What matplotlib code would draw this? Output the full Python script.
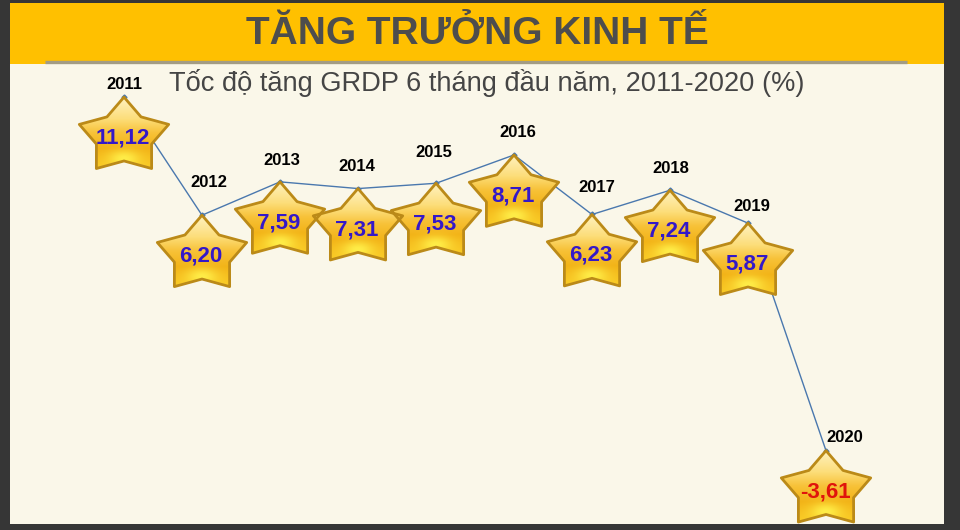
import matplotlib
matplotlib.use("Agg")
import matplotlib.pyplot as plt
import numpy as np
from matplotlib.patches import Polygon, Rectangle

years = [2011, 2012, 2013, 2014, 2015, 2016, 2017, 2018, 2019, 2020]
growth = [11.12, 6.20, 7.59, 7.31, 7.53, 8.71, 6.23, 7.24, 5.87, -3.61]
value_labels = ["11,12", "6,20", "7,59", "7,31", "7,53", "8,71", "6,23", "7,24", "5,87", "-3,61"]
title = "TĂNG TRƯỞNG KINH TẾ"
subtitle = "Tốc độ tăng GRDP 6 tháng đầu năm, 2011-2020 (%)"

# label nudges in pixels (style only)
year_offsets = [(0, 13), (7, 33), (2, 21), (-1, 22), (-2, 31), (4, 22), (5, 27), (1, 22), (4, 17), (19, 13)]

W, H = 960, 530
fig = plt.figure(figsize=(W / 100, H / 100), dpi=100)
fig.patch.set_facecolor("#363636")

# background frame, header band
bg = fig.add_axes([0, 0, 1, 1])
bg.set_xlim(0, W)
bg.set_ylim(H, 0)
bg.axis("off")
bg.add_patch(Rectangle((10, 3), 934, 61, facecolor="#FFC000", edgecolor="none"))
bg.add_patch(Rectangle((10, 64), 934, 460, facecolor="#FAF7E9", edgecolor="none"))
bg.plot([45, 907], [61.5, 61.5], color="#A39C84", lw=2.4, solid_capstyle="butt")
bg.text(477, 34, title, ha="center", va="center", fontsize=28, fontweight="bold",
        color="#4D4D4D", family=["Liberation Sans", "DejaVu Sans"])
bg.text(487, 83, subtitle, ha="center", va="center", fontsize=19.6,
        color="#454545", family=["Liberation Sans", "DejaVu Sans"])

# chart axes
ax = fig.add_axes([46 / W, 0, 858 / W, 470 / H])
ax.patch.set_alpha(0)
ax.set_xlim(2010, 2021)
ax.set_ylim(-6.9167, 12.6667)
ax.set_autoscale_on(False)
ax.axis("off")

ax.plot(years, growth, color="#4A78AE", lw=1.0, marker="D", ms=2.5, zorder=2)

# star shape in pixels, top tip at origin
R, r, k = 47, 29, 0.84
ang = np.deg2rad(90 + 36 * np.arange(10))
rad = np.where(np.arange(10) % 2 == 0, R, r)
star_off = np.column_stack([rad * np.cos(ang), (rad * np.sin(ang) - R) * k])

# gradient fill for the stars
gy, gx = np.mgrid[0:1:120j, 0:1:120j]
stops_t = [0.0, 0.3, 0.5, 0.72, 1.0]
stops_c = np.array([[1.0, 0.95, 0.76], [0.99, 0.87, 0.48], [0.97, 0.76, 0.22],
                    [0.95, 0.70, 0.09], [0.98, 0.80, 0.15]])
grad = np.stack([np.interp(gy, stops_t, stops_c[:, i]) for i in range(3)], axis=-1)
glow = np.exp(-((gx - 0.5) ** 2 / 0.03 + (gy - 0.86) ** 2 / 0.015))[..., None]
grad = grad * (1 - glow) + np.array([1.0, 0.93, 0.28]) * glow

inv = ax.transData.inverted()
for yr, v, vl, (dx, dy) in zip(years, growth, value_labels, year_offsets):
    tip = ax.transData.transform((yr, v))
    pts = inv.transform(star_off + tip)
    poly = Polygon(pts, closed=True, facecolor="none", edgecolor="#BB8A18",
                   lw=2.0, joinstyle="round", zorder=4)
    ax.add_patch(poly)
    im = ax.imshow(grad, extent=(pts[:, 0].min(), pts[:, 0].max(), pts[:, 1].min(), pts[:, 1].max()),
                   aspect="auto", origin="upper", zorder=3, interpolation="bilinear")
    im.set_clip_path(poly)
    ax.annotate(str(yr), (yr, v), xytext=(dx, dy), textcoords="offset pixels",
                ha="center", va="center", fontsize=12, fontweight="bold", color="black",
                family=["Liberation Sans", "DejaVu Sans"], zorder=6)
    ax.annotate(vl, (yr, v), xytext=(-1, -41), textcoords="offset pixels",
                ha="center", va="center", fontsize=16, fontweight="bold",
                color="#E0140C" if v < 0 else "#3418C8",
                family=["Liberation Sans", "DejaVu Sans"], zorder=6)

fig.savefig("out.png", dpi=100)
